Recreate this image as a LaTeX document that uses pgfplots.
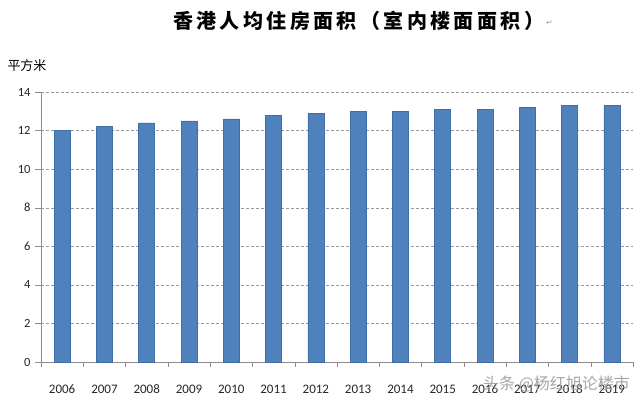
\documentclass[border=0pt]{standalone}
\usepackage{fontspec}
\setmainfont{Carlito}
\newfontfamily\cjk{Noto Sans CJK SC}
\newfontfamily\sym{DejaVu Sans}
\usepackage{pgfplots}
\pgfplotsset{compat=1.18}
\definecolor{barblue}{HTML}{4F81BD}
\definecolor{baredge}{HTML}{3F6EA8}
\definecolor{axgray}{HTML}{8C8C8C}
\definecolor{gridgray}{HTML}{9A9A9A}
\pgfplotstableread{
x val
0 12.0
1 12.2
2 12.4
3 12.5
4 12.6
5 12.8
6 12.9
7 13.0
8 13.0
9 13.1
10 13.1
11 13.2
12 13.3
13 13.3
}\hkdata
\begin{document}
\begin{tikzpicture}[x=1pt,y=1pt]
\useasboundingbox (0,0) rectangle (640,406);
\begin{axis}[
  at={(41pt,44pt)}, anchor=south west,
  scale only axis, width=592pt, height=270pt,
  xmin=-0.5, xmax=13.5, ymin=0, ymax=14,
  ytick={0,2,...,14},
  xtick={0,...,13},
  xticklabels={2006,2007,2008,2009,2010,2011,2012,2013,2014,2015,2016,2017,2018,2019},
  minor xtick={-0.5,0.5,...,13.5},
  major x tick style={draw=none},
  minor x tick style={draw=axgray},
  minor tick length=5pt,
  major tick length=6pt,
  tick align=outside,
  axis x line*=bottom, axis y line*=left,
  axis line style={draw=axgray},
  y tick style={draw=axgray},
  ymajorgrids,
  grid style={dash pattern=on 3pt off 2pt, draw=gridgray},
  yticklabel style={font=\fontsize{12.5}{12.5}\selectfont, text=black!85, xshift=-1pt},
  xticklabel style={font=\fontsize{13}{13}\selectfont, text=black!85, anchor=base, yshift=-26pt},
  /pgf/number format/assume math mode=true,
  ybar, bar width=16pt,
  clip=false,
]
\addplot[fill=barblue, draw=baredge, line width=0.6pt] table[x=x,y=val]{\hkdata};
\end{axis}
\node[anchor=west, inner sep=0] at (173,385) {\cjk\bfseries\fontsize{20}{20}\selectfont\addfontfeatures{LetterSpace=17}香港人均住房面积（室内楼面面积）};
\node[anchor=west, inner sep=0, text=gray!70] at (546,383) {\sym\fontsize{8}{8}\selectfont ↵};
\node[inner sep=0] at (27,340) {\cjk\fontsize{13}{13}\selectfont 平方米};
\node[anchor=west, inner sep=0, text=gray!70] at (483,22) {\cjk\fontsize{16}{16}\selectfont 头条 @杨红旭论楼市};
\end{tikzpicture}
\end{document}
